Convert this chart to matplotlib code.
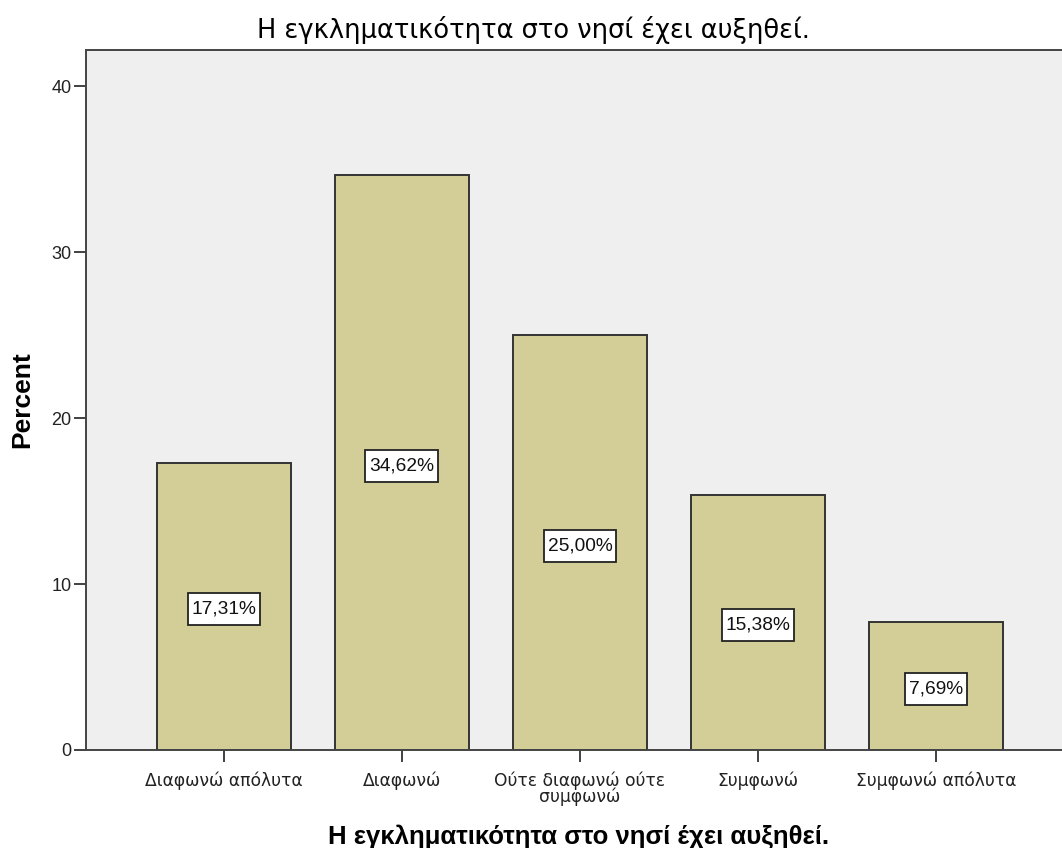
import matplotlib
matplotlib.use("Agg")
import matplotlib.pyplot as plt
from matplotlib.patches import Rectangle

plt.rcParams["font.family"] = ["DejaVu Sans"]

# Δεδομένα
categories = ["Διαφωνώ απόλυτα", "Διαφωνώ", "Ούτε διαφωνώ ούτε\nσυμφωνώ",
              "Συμφωνώ", "Συμφωνώ απόλυτα"]
percents = [17.31, 34.62, 25.00, 15.38, 7.69]
title = "Η εγκληματικότητα στο νησί έχει αυξηθεί."

W, H = 1062, 848
fig = plt.figure(figsize=(W / 100, H / 100), dpi=100)
ax = fig.add_axes([86 / W, 1 - 750 / H, 1 - 86 / W, 700 / H])
ax.set_facecolor("#efefef")

x = range(len(categories))
ax.bar(x, percents, width=0.753, color="#d3ce98", edgecolor="#333333",
       linewidth=1.4, zorder=2)

ax.set_xlim(-0.775, 4.708)
ax.set_ylim(0, 42.17)
ax.set_yticks([0, 10, 20, 30, 40])
ax.set_xticks(list(x))
ax.set_xticklabels(categories, fontsize=12.3, linespacing=0.85, color="#222222")
ax.tick_params(axis="y", labelsize=13, labelcolor="#222222", length=8.5, width=1.3,
               color="#333333", pad=2)
for lab in ax.get_yticklabels():
    lab.set_family("Liberation Sans")
ax.tick_params(axis="x", length=8.5, width=1.3, color="#333333", pad=7)

for side in ["left", "top", "bottom"]:
    ax.spines[side].set_color("#444444")
    ax.spines[side].set_linewidth(1.4)
ax.spines["right"].set_visible(False)

fig.text(22 / W, 1 - 400 / H, "Percent", rotation=90, ha="center", va="center",
         fontsize=19, fontweight="bold", family="Liberation Sans")
fig.text(579 / W, 1 - 844 / H, title, ha="center", va="baseline",
         fontsize=18.5, fontweight="bold", family="Liberation Sans")
fig.text(533 / W, 1 - 38 / H, title, ha="center", va="baseline", fontsize=18.5)

# Ετικέτες ποσοστών στη μέση κάθε στήλης, με λευκό πλαίσιο
fig.canvas.draw()
renderer = fig.canvas.get_renderer()
for xi, v in zip(x, percents):
    px, py = ax.transData.transform((xi, v / 2))
    py -= 3
    t = ax.text(px, py, f"{v:.2f}%".replace(".", ","), ha="center", va="center",
                fontsize=13.8, color="#111111", family="Liberation Sans",
                transform=None, zorder=4)
    ext = t.get_window_extent(renderer)
    bw, bh = ext.width + 8, 32
    ax.add_patch(Rectangle((px - bw / 2, py - bh / 2), bw, bh, transform=None,
                           fc="white", ec="#222222", lw=1.3, zorder=3))

fig.savefig("out.png", dpi=100)
